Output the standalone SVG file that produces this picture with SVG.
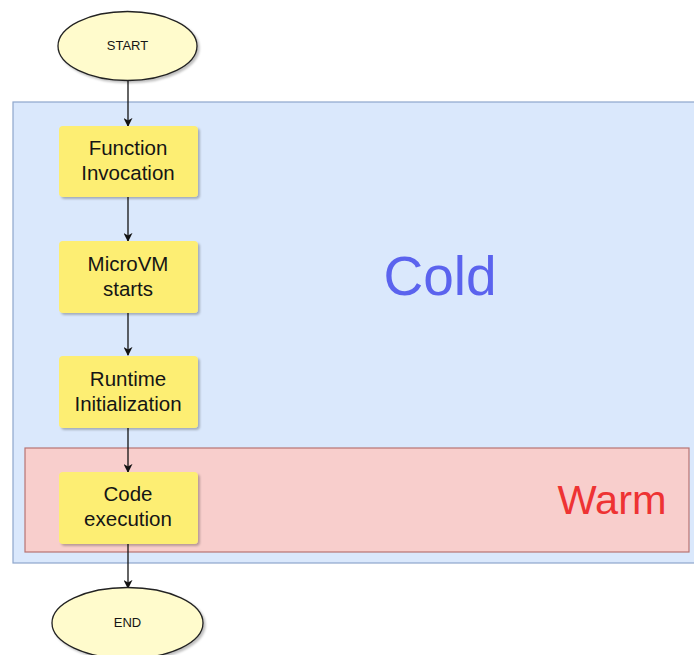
<svg xmlns="http://www.w3.org/2000/svg" width="694" height="655" viewBox="0 0 694 655">
  <defs>
    <marker id="arrow" viewBox="0 0 10 10" refX="9" refY="5" markerWidth="9" markerHeight="9" orient="auto" markerUnits="userSpaceOnUse">
      <path d="M0,0 L10,5 L0,10 L3,5 Z" fill="#111"/>
    </marker>
    <filter id="shadow" x="-20%" y="-20%" width="140%" height="140%">
      <feDropShadow dx="2" dy="2" stdDeviation="1" flood-color="#000" flood-opacity="0.25"/>
    </filter>
  </defs>
  <style>
    .terminal { fill: #fffbcc; stroke: #222; stroke-width: 1.3; }
    .step { fill: #fdee73; stroke: none; }
    .label { font-family: "Liberation Sans", Arial, sans-serif; font-size: 20.5px; fill: #151515; text-anchor: middle; }
    .small { font-family: "Liberation Sans", Arial, sans-serif; font-size: 13px; fill: #151515; text-anchor: middle; }
    .edge { stroke: #111; stroke-width: 1.3; fill: none; marker-end: url(#arrow); }
  </style>
  <rect width="694" height="655" fill="#ffffff"/>

  <!-- Phase regions -->
  <g id="cold">
    <rect x="13" y="102" width="684" height="461" fill="#dae8fc" stroke="#8ea6cc" stroke-width="1.2"/>
    <text x="440" y="295" font-family="'Liberation Sans', Arial, sans-serif" font-size="55" fill="#5b63ee" text-anchor="middle">Cold</text>
  </g>
  <g id="warm">
    <rect x="25" y="448" width="664" height="104" fill="#f8cecc" stroke="#b87472" stroke-width="1.2"/>
    <text x="612" y="514" font-family="'Liberation Sans', Arial, sans-serif" font-size="41.5" fill="#ee3333" text-anchor="middle">Warm</text>
  </g>

  <!-- Connectors -->
  <g id="connectors">
    <line class="edge" x1="128" y1="81" x2="128" y2="126"/>
    <line class="edge" x1="128" y1="197" x2="128" y2="241"/>
    <line class="edge" x1="128" y1="313" x2="128" y2="355"/>
    <line class="edge" x1="128" y1="428" x2="128" y2="472"/>
    <line class="edge" x1="128" y1="544" x2="128" y2="588"/>
  </g>

  <!-- Nodes -->
  <g id="start">
    <ellipse class="terminal" cx="127.5" cy="46" rx="69.5" ry="34.5" filter="url(#shadow)"/>
    <text class="small" x="127.5" y="50">START</text>
  </g>
  <g id="function-invocation">
    <rect class="step" x="59" y="126" width="139" height="71" rx="4" filter="url(#shadow)"/>
    <text class="label" x="128" y="155">Function</text>
    <text class="label" x="128" y="180">Invocation</text>
  </g>
  <g id="microvm-starts">
    <rect class="step" x="59" y="241" width="139" height="72" rx="4" filter="url(#shadow)"/>
    <text class="label" x="128" y="271">MicroVM</text>
    <text class="label" x="128" y="296">starts</text>
  </g>
  <g id="runtime-initialization">
    <rect class="step" x="59" y="356" width="139" height="72" rx="4" filter="url(#shadow)"/>
    <text class="label" x="128" y="386">Runtime</text>
    <text class="label" x="128" y="411">Initialization</text>
  </g>
  <g id="code-execution">
    <rect class="step" x="59" y="472" width="139" height="72" rx="4" filter="url(#shadow)"/>
    <text class="label" x="128" y="501">Code</text>
    <text class="label" x="128" y="526">execution</text>
  </g>
  <g id="end">
    <ellipse class="terminal" cx="127.5" cy="623" rx="75.5" ry="35.5" filter="url(#shadow)"/>
    <text class="small" x="127.5" y="627">END</text>
  </g>
</svg>
